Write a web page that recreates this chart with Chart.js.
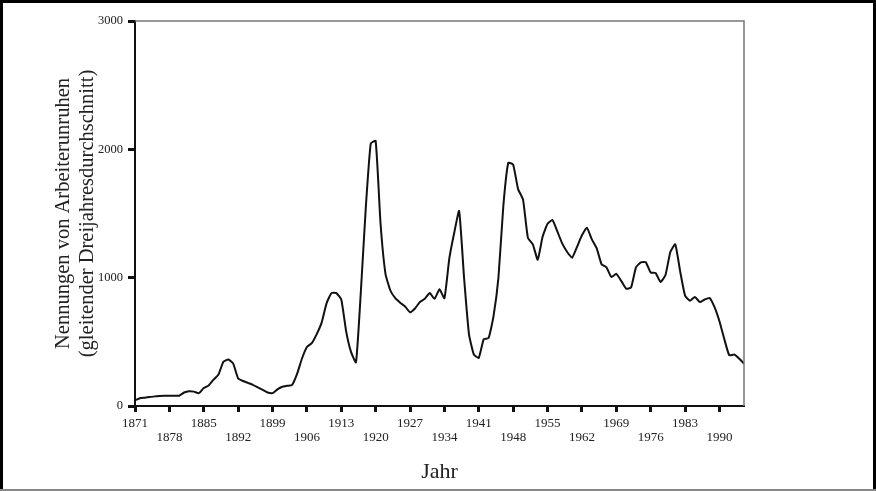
<!DOCTYPE html>
<html>
<head>
<meta charset="utf-8">
<script src="https://cdn.jsdelivr.net/npm/chart.js@4"></script>
<style>
  html, body { margin: 0; padding: 0; background: #fff; }
  #wrap { width: 876px; height: 491px; position: relative; }
</style>
</head>
<body>
<div id="wrap"><canvas id="c"></canvas></div>
<script>
// ---- data ----
const years = [];
for (let y = 1871; y <= 1995; y++) years.push(y);

const values = [
  45, 60, 65, 70, 75, 78, 80, 80, 80, 80,          // 1871-1880
  105, 115, 112, 100, 140, 160, 205, 245, 345, 362, // 1881-1890
  330, 215, 195, 180, 165, 145, 125, 105, 100, 130, // 1891-1900
  150, 157, 165, 250, 370, 460, 490, 560, 650, 800, // 1901-1910
  880, 880, 830, 580, 420, 340, 900, 1550, 2045, 2065, // 1911-1920
  1420, 1030, 900, 840, 805, 775, 730, 760, 810, 835,  // 1921-1930
  880, 835, 910, 840, 1150, 1350, 1520, 1000, 560, 400, // 1931-1940
  375, 520, 530, 700, 1000, 1560, 1895, 1880, 1690, 1610, // 1941-1950
  1310, 1260, 1140, 1320, 1420, 1450, 1360, 1265, 1200, 1155, // 1951-1960
  1240, 1330, 1390, 1300, 1230, 1105, 1080, 1005, 1030, 975, // 1961-1970
  915, 923, 1080, 1120, 1120, 1040, 1037, 967, 1019, 1200,  // 1971-1980
  1260, 1050, 860, 820, 850, 810, 830, 842, 770, 660,      // 1981-1990
  520, 395, 401, 370, 330                                  // 1991-1995
];

const xTickYears = [1871, 1878, 1885, 1892, 1899, 1906, 1913, 1920, 1927, 1934, 1941, 1948, 1955, 1962, 1969, 1976, 1983, 1990];
const yTickValues = [0, 1000, 2000, 3000];

const yTitle = ['Nennungen von Arbeiterunruhen', '(gleitender Dreijahresdurchschnitt)'];
const xTitle = 'Jahr';

const SERIF = "'Liberation Serif', 'DejaVu Serif', serif";

const framePlugin = {
  id: 'frame',
  afterDraw(chart) {
    const ctx = chart.ctx;
    const a = chart.chartArea;
    ctx.save();
    // top & right plot border (thin grey)
    ctx.strokeStyle = '#777';
    ctx.lineWidth = 1.5;
    ctx.beginPath();
    ctx.moveTo(a.left, a.top);
    ctx.lineTo(a.right, a.top);
    ctx.lineTo(a.right, a.bottom);
    ctx.stroke();
    // outer frame
    const W = chart.width, H = chart.height;
    ctx.fillStyle = '#000';
    ctx.fillRect(0, 0, W, 3);
    ctx.fillRect(0, 0, 3, H);
    ctx.fillRect(W - 3, 0, 3, H);
    ctx.fillStyle = '#888';
    ctx.fillRect(0, H - 2, W, 2);
    ctx.restore();
  }
};

new Chart(document.getElementById('c'), {
  type: 'line',
  data: {
    datasets: [{
      data: years.map((y, i) => ({ x: y, y: values[i] })),
      borderColor: '#111',
      borderWidth: 2,
      pointRadius: 0,
      tension: 0.15,
      fill: false
    }]
  },
  options: {
    responsive: true,
    maintainAspectRatio: false,
    animation: false,
    layout: { padding: { left: 3, top: 21, right: 132, bottom: 0 } },
    plugins: { legend: { display: false }, tooltip: { enabled: false } },
    scales: {
      x: {
        type: 'linear',
        min: 1871,
        max: 1995,
        afterBuildTicks(scale) { scale.ticks = xTickYears.map(v => ({ value: v })); },
        afterFit(scale) { scale.height = 85; },
        ticks: {
          autoSkip: false,
          maxRotation: 0,
          padding: 4,
          color: '#222',
          font: { family: SERIF, size: 13, lineHeight: 1.1 },
          callback(value) {
            const i = xTickYears.indexOf(value);
            return i % 2 === 0 ? [String(value), ''] : ['', String(value)];
          }
        },
        grid: { drawOnChartArea: false, drawTicks: true, tickLength: 6, tickWidth: 3, tickColor: '#111' },
        border: { display: true, color: '#111', width: 2 },
        title: { display: true, text: xTitle, color: '#222', font: { family: SERIF, size: 22, lineHeight: 1.2 }, padding: { top: 0, bottom: 6 } }
      },
      y: {
        min: 0,
        max: 3000,
        afterBuildTicks(scale) { scale.ticks = yTickValues.map(v => ({ value: v })); },
        afterFit(scale) { scale.width = 132; },
        ticks: {
          padding: 5,
          color: '#222',
          font: { family: SERIF, size: 12.5 },
          callback: v => String(v)
        },
        grid: { drawOnChartArea: false, drawTicks: true, tickLength: 7, tickWidth: 3, tickColor: '#111' },
        border: { display: true, color: '#111', width: 2 },
        title: { display: true, text: yTitle, color: '#222', font: { family: SERIF, size: 20.5, lineHeight: 1.15 }, padding: { top: 49, bottom: 0 } }
      }
    }
  },
  plugins: [framePlugin]
});
</script>
</body>
</html>
